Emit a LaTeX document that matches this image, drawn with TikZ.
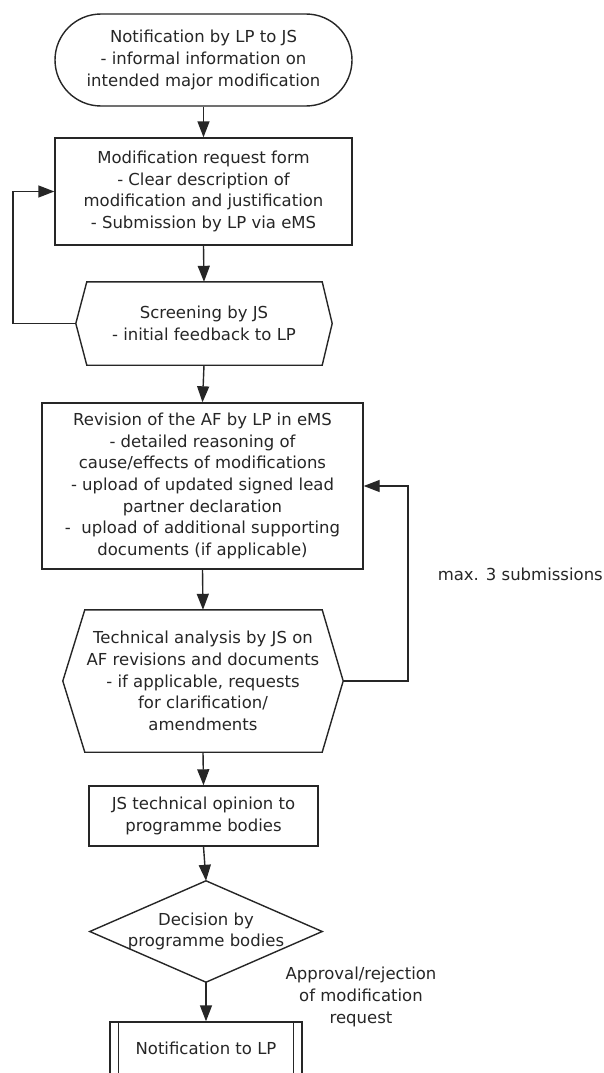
\documentclass[tikz,border=0pt]{standalone}
\usepackage{fontspec}
\setmainfont{DejaVu Sans}
\usetikzlibrary{arrows.meta}
\begin{document}
\begin{tikzpicture}[x=1pt,y=-1pt,
  every node/.style={font=\fontsize{16.5}{21.7}\selectfont, text=black!85, align=center, inner sep=0pt},
  line/.style={draw=black!85, line width=1.4pt},
  arr/.style={line, -{Triangle[width=12pt,length=16pt]}},
  box/.style={line, rectangle},
  ghost/.style={rectangle}
  ]
\fill[white] (0,0) rectangle (604,1073);
\useasboundingbox (0,0) rectangle (604,1073);

% terminator
\node[box, rounded corners=46pt, minimum width=297pt, minimum height=92pt] (n1) at (203.5,60)
  {Notification by LP to JS\\- informal information on\\intended major modification};
% request form
\node[box, minimum width=297pt, minimum height=107pt] (n2) at (203.5,191.5)
  {Modification request form\\- Clear description of\\modification and justification\\- Submission by LP via eMS};
% screening hexagon
\node[ghost, minimum width=256pt, minimum height=83pt] (n3) at (204,323.5)
  {Screening by JS\\- initial feedback to LP};
\draw[line] ([xshift=11pt]n3.north west) -- ([xshift=-10pt]n3.north east) -- (n3.east)
  -- ([xshift=-10pt]n3.south east) -- ([xshift=11pt]n3.south west) -- (n3.west) -- cycle;
% revision box
\node[box, minimum width=321pt, minimum height=166pt] (n4) at (202.5,486)
  {Revision of the AF by LP in eMS\\- detailed reasoning of\\cause/effects of modifications\\- upload of updated signed lead\\partner declaration\\-\ \ upload of additional supporting\\documents (if applicable)};
% technical analysis hexagon
\node[ghost, minimum width=280pt, minimum height=142pt] (n5) at (203,681)
  {Technical analysis by JS on\\AF revisions and documents\\- if applicable, requests\\for clarification/\\amendments};
\draw[line] ([xshift=22pt]n5.north west) -- ([xshift=-21pt]n5.north east) -- (n5.east)
  -- ([xshift=-21pt]n5.south east) -- ([xshift=22pt]n5.south west) -- (n5.west) -- cycle;
% JS opinion
\node[box, minimum width=229pt, minimum height=60pt] (n6) at (203.5,816)
  {JS technical opinion to\\programme bodies};
% decision diamond
\node[ghost, minimum width=232pt, minimum height=101pt] (n7) at (206,931.5)
  {Decision by\\programme bodies};
\draw[line] (n7.north) -- (n7.east) -- (n7.south) -- (n7.west) -- cycle;
% notification to LP (predefined process, cut off)
\node[box, minimum width=192pt, minimum height=54pt] (n8) at (206,1049) {};
\draw[line] ([xshift=9pt]n8.north west) -- ([xshift=9pt]n8.south west);
\draw[line] ([xshift=-9pt]n8.north east) -- ([xshift=-9pt]n8.south east);
\node (n8t) at (206,1048) {Notification to LP};

% labels
\node[anchor=east] (lmax) at (603,574) {max. 3 submissions};
\node (lapp) at (361,997) {Approval/rejection\\of modification\\request};

% helper coordinates
\coordinate (lp) at (13,0);
\coordinate (rp) at (408,0);

% connectors
\draw[arr] (n1.south) -- (n2.north);
\draw[arr] (n2.south) -- (n3.north);
\draw[arr] (n3.west) -- (n3.west -| lp) |- (n2.west);
\draw[arr] (n3.south) -- (n4.north);
\draw[arr] (n4.south) -- (n5.north);
\draw[arr] (n5.east) -- (n5.east -| rp) |- (n4.east);
\draw[arr] (n5.south) -- (n6.north);
\draw[arr] (n6.south) -- (n7.north);
\draw[arr] (n7.south) -- (n8.north);
\end{tikzpicture}
\end{document}
